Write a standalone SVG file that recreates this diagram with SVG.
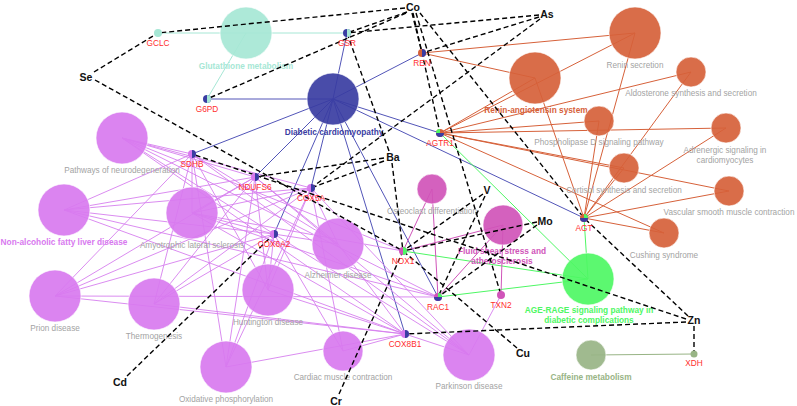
<svg xmlns="http://www.w3.org/2000/svg" width="797" height="406" viewBox="0 0 797 406">
<style>
text{font-family:"Liberation Sans",Arial,sans-serif}
.pw{font-size:8.2px;fill:#a3a3a3;text-anchor:middle}
.gl{font-size:8.3px;fill:#ff2d2d;text-anchor:middle}
.el{font-size:10.5px;font-weight:bold;fill:#111;text-anchor:middle}
.bl{font-size:8.3px;font-weight:bold;text-anchor:middle}
.c{stroke:#fff;stroke-opacity:.6;stroke-width:1;fill-opacity:.92}
.teal{fill:#a6e7d5}.blue{fill:#3a3da2}.org{fill:#d6613a}.grn{fill:#4ef764}.mag{fill:#d054b9}.vio{fill:#d879ef}.caf{fill:#98b485}
line{fill:none}
.et{stroke:#a6e7d5;stroke-width:1}
.eb{stroke:#5255b8;stroke-width:1}
.eo{stroke:#d6613a;stroke-width:1}
.eg{stroke:#4ef764;stroke-width:1}
.em{stroke:#d054b9;stroke-width:1}
.ev{stroke:#d67fee;stroke-width:.9}
.ec{stroke:#98b485;stroke-width:1}
.d{stroke:#000;stroke-width:1.4;stroke-dasharray:5 3}
</style>

<g id="connectors-pathway">
<line class="et" x1="158" y1="33" x2="246" y2="33"/>
<line class="et" x1="347" y1="33" x2="246" y2="33"/>
<line class="et" x1="207" y1="99" x2="246" y2="33"/>
<line class="eb" x1="347" y1="33" x2="333" y2="99"/>
<line class="eb" x1="207" y1="99" x2="333" y2="99"/>
<line class="eb" x1="422" y1="53" x2="333" y2="99"/>
<line class="eb" x1="440" y1="133" x2="333" y2="99"/>
<line class="eb" x1="584" y1="218" x2="333" y2="99"/>
<line class="eb" x1="192" y1="154" x2="333" y2="99"/>
<line class="eb" x1="255" y1="177" x2="333" y2="99"/>
<line class="eb" x1="311" y1="188" x2="333" y2="99"/>
<line class="eb" x1="274" y1="234" x2="333" y2="99"/>
<line class="eb" x1="438" y1="297" x2="333" y2="99"/>
<line class="eb" x1="405" y1="334" x2="333" y2="99"/>
<line class="eo" x1="422" y1="53" x2="635" y2="33"/>
<line class="eo" x1="440" y1="133" x2="635" y2="33"/>
<line class="eo" x1="584" y1="218" x2="635" y2="33"/>
<line class="eo" x1="422" y1="53" x2="535" y2="78"/>
<line class="eo" x1="440" y1="133" x2="535" y2="78"/>
<line class="eo" x1="584" y1="218" x2="535" y2="78"/>
<line class="eo" x1="440" y1="133" x2="691" y2="72"/>
<line class="eo" x1="584" y1="218" x2="691" y2="72"/>
<line class="eo" x1="440" y1="133" x2="599" y2="121"/>
<line class="eo" x1="584" y1="218" x2="599" y2="121"/>
<line class="eo" x1="440" y1="133" x2="726" y2="128"/>
<line class="eo" x1="584" y1="218" x2="726" y2="128"/>
<line class="eo" x1="440" y1="133" x2="624" y2="168"/>
<line class="eo" x1="584" y1="218" x2="624" y2="168"/>
<line class="eo" x1="440" y1="133" x2="729" y2="191"/>
<line class="eo" x1="584" y1="218" x2="729" y2="191"/>
<line class="eo" x1="440" y1="133" x2="664" y2="233"/>
<line class="eo" x1="584" y1="218" x2="664" y2="233"/>
<line class="eg" x1="440" y1="133" x2="588" y2="279"/>
<line class="eg" x1="584" y1="218" x2="588" y2="279"/>
<line class="eg" x1="403" y1="251" x2="588" y2="279"/>
<line class="eg" x1="438" y1="297" x2="588" y2="279"/>
<line class="em" x1="403" y1="251" x2="432" y2="189"/>
<line class="em" x1="438" y1="297" x2="432" y2="189"/>
<line class="em" x1="403" y1="251" x2="503" y2="225"/>
<line class="em" x1="438" y1="297" x2="503" y2="225"/>
<line class="em" x1="501" y1="295" x2="503" y2="225"/>
<line class="ec" x1="694" y1="354" x2="591" y2="355"/>
<line class="ev" x1="192" y1="154" x2="122" y2="138"/><line class="ev" x1="192" y1="154" x2="64" y2="210"/><line class="ev" x1="192" y1="154" x2="192" y2="213"/><line class="ev" x1="192" y1="154" x2="338" y2="244"/><line class="ev" x1="192" y1="154" x2="55" y2="296"/><line class="ev" x1="192" y1="154" x2="154" y2="304"/><line class="ev" x1="192" y1="154" x2="268" y2="290"/><line class="ev" x1="192" y1="154" x2="226" y2="367"/><line class="ev" x1="192" y1="154" x2="469" y2="355"/>
<line class="ev" x1="255" y1="177" x2="122" y2="138"/><line class="ev" x1="255" y1="177" x2="64" y2="210"/><line class="ev" x1="255" y1="177" x2="192" y2="213"/><line class="ev" x1="255" y1="177" x2="338" y2="244"/><line class="ev" x1="255" y1="177" x2="55" y2="296"/><line class="ev" x1="255" y1="177" x2="154" y2="304"/><line class="ev" x1="255" y1="177" x2="268" y2="290"/><line class="ev" x1="255" y1="177" x2="226" y2="367"/><line class="ev" x1="255" y1="177" x2="469" y2="355"/>
<line class="ev" x1="311" y1="188" x2="122" y2="138"/><line class="ev" x1="311" y1="188" x2="64" y2="210"/><line class="ev" x1="311" y1="188" x2="192" y2="213"/><line class="ev" x1="311" y1="188" x2="338" y2="244"/><line class="ev" x1="311" y1="188" x2="55" y2="296"/><line class="ev" x1="311" y1="188" x2="154" y2="304"/><line class="ev" x1="311" y1="188" x2="268" y2="290"/><line class="ev" x1="311" y1="188" x2="226" y2="367"/><line class="ev" x1="311" y1="188" x2="469" y2="355"/><line class="ev" x1="311" y1="188" x2="343" y2="351"/>
<line class="ev" x1="274" y1="234" x2="122" y2="138"/><line class="ev" x1="274" y1="234" x2="64" y2="210"/><line class="ev" x1="274" y1="234" x2="192" y2="213"/><line class="ev" x1="274" y1="234" x2="338" y2="244"/><line class="ev" x1="274" y1="234" x2="55" y2="296"/><line class="ev" x1="274" y1="234" x2="154" y2="304"/><line class="ev" x1="274" y1="234" x2="268" y2="290"/><line class="ev" x1="274" y1="234" x2="226" y2="367"/><line class="ev" x1="274" y1="234" x2="469" y2="355"/><line class="ev" x1="274" y1="234" x2="343" y2="351"/>
<line class="ev" x1="405" y1="334" x2="122" y2="138"/><line class="ev" x1="405" y1="334" x2="64" y2="210"/><line class="ev" x1="405" y1="334" x2="192" y2="213"/><line class="ev" x1="405" y1="334" x2="338" y2="244"/><line class="ev" x1="405" y1="334" x2="55" y2="296"/><line class="ev" x1="405" y1="334" x2="154" y2="304"/><line class="ev" x1="405" y1="334" x2="268" y2="290"/><line class="ev" x1="405" y1="334" x2="226" y2="367"/><line class="ev" x1="405" y1="334" x2="469" y2="355"/><line class="ev" x1="405" y1="334" x2="343" y2="351"/>
<line class="ev" x1="438" y1="297" x2="122" y2="138"/><line class="ev" x1="438" y1="297" x2="192" y2="213"/><line class="ev" x1="438" y1="297" x2="64" y2="210"/><line class="ev" x1="438" y1="297" x2="55" y2="296"/>
<line class="ev" x1="403" y1="251" x2="122" y2="138"/><line class="ev" x1="403" y1="251" x2="192" y2="213"/>
<line class="ev" x1="501" y1="295" x2="469" y2="355"/>
</g>

<g id="n-glut"><circle class="c teal" cx="246" cy="33" r="26"/><text class="bl" x="246" y="69" fill="#a6e7d5">Glutathione metabolism</text></g>
<g id="n-dc"><circle class="c blue" cx="333" cy="99" r="26"/><text class="bl" x="334" y="135" fill="#3a3da2">Diabetic cardiomyopathy</text></g>
<g id="n-rensec"><circle class="c org" cx="635" cy="33" r="26"/><text class="pw" x="635" y="68">Renin secretion</text></g>
<g id="n-ras"><circle class="c org" cx="535" cy="78" r="26"/><text class="bl" x="536" y="113" fill="#d6613a">Renin-angiotensin system</text></g>
<g id="n-aldo"><circle class="c org" cx="691" cy="72" r="15"/><text class="pw" x="691" y="96">Aldosterone synthesis and secretion</text></g>
<g id="n-pld"><circle class="c org" cx="599" cy="121" r="15"/><text class="pw" x="599" y="145">Phospholipase D signaling pathway</text></g>
<g id="n-adr"><circle class="c org" cx="726" cy="128" r="15"/><text class="pw" x="725" y="153">Adrenergic signaling in</text><text class="pw" x="725" y="163">cardiomyocytes</text></g>
<g id="n-cort"><circle class="c org" cx="624" cy="168" r="15"/><text class="pw" x="624" y="193">Cortisol synthesis and secretion</text></g>
<g id="n-vasc"><circle class="c org" cx="729" cy="191" r="15"/><text class="pw" x="729" y="215">Vascular smooth muscle contraction</text></g>
<g id="n-cush"><circle class="c org" cx="664" cy="233" r="15"/><text class="pw" x="664" y="258">Cushing syndrome</text></g>
<g id="n-age"><circle class="c grn" cx="588" cy="279" r="26"/><text class="bl" x="589" y="313" fill="#4ef764">AGE-RAGE signaling pathway in</text><text class="bl" x="589" y="323" fill="#4ef764">diabetic complications</text></g>
<g id="n-caf"><circle class="c caf" cx="591" cy="355" r="15"/><text class="bl" x="591" y="380" fill="#98b485">Caffeine metabolism</text></g>
<g id="n-ost"><circle class="c mag" cx="432" cy="189" r="15"/><text class="pw" x="432" y="214">Osteoclast differentiation</text></g>
<g id="n-fss"><circle class="c mag" cx="503" cy="225" r="20"/><text class="bl" x="502" y="254" fill="#d054b9">Fluid shear stress and</text><text class="bl" x="502" y="264" fill="#d054b9">atherosclerosis</text></g>
<g id="n-pnd"><circle class="c vio" cx="122" cy="138" r="26"/><text class="pw" x="122" y="173">Pathways of neurodegeneration</text></g>
<g id="n-nafld"><circle class="c vio" cx="64" cy="210" r="26"/><text class="bl" x="64" y="245" fill="#d879ef">Non-alcoholic fatty liver disease</text></g>
<g id="n-als"><circle class="c vio" cx="192" cy="213" r="26"/><text class="pw" x="192" y="248">Amyotrophic lateral sclerosis</text></g>
<g id="n-alz"><circle class="c vio" cx="338" cy="244" r="26"/><text class="pw" x="338" y="278">Alzheimer disease</text></g>
<g id="n-prion"><circle class="c vio" cx="55" cy="296" r="26"/><text class="pw" x="55" y="331">Prion disease</text></g>
<g id="n-thermo"><circle class="c vio" cx="154" cy="304" r="26"/><text class="pw" x="154" y="339">Thermogenesis</text></g>
<g id="n-hd"><circle class="c vio" cx="268" cy="290" r="26"/><text class="pw" x="268" y="325">Huntington disease</text></g>
<g id="n-oxphos"><circle class="c vio" cx="226" cy="367" r="26"/><text class="pw" x="226" y="402">Oxidative phosphorylation</text></g>
<g id="n-cmc"><circle class="c vio" cx="343" cy="351" r="20"/><text class="pw" x="343" y="380">Cardiac muscle contraction</text></g>
<g id="n-pd"><circle class="c vio" cx="469" cy="355" r="26"/><text class="pw" x="469" y="389">Parkinson disease</text></g>

<g id="connectors-metal">
<line class="d" x1="405" y1="8" x2="158" y2="33"/>
<line class="d" x1="407" y1="12" x2="347" y2="33"/>
<line class="d" x1="406" y1="13" x2="207" y2="99"/>
<line class="d" x1="412" y1="13" x2="422" y2="53"/>
<line class="d" x1="413" y1="13" x2="440" y2="133"/>
<line class="d" x1="416" y1="13" x2="501" y2="295"/>
<line class="d" x1="420" y1="13" x2="584" y2="218"/>
<line class="d" x1="539" y1="15" x2="347" y2="33"/>
<line class="d" x1="539" y1="17" x2="422" y2="53"/>
<line class="d" x1="540" y1="19" x2="311" y2="188"/>
<line class="d" x1="94" y1="72" x2="158" y2="33"/>
<line class="d" x1="95" y1="80" x2="403" y2="251"/>
<line class="d" x1="389" y1="151" x2="347" y2="33"/>
<line class="d" x1="384" y1="158" x2="255" y2="177"/>
<line class="d" x1="384" y1="161" x2="311" y2="188"/>
<line class="d" x1="392" y1="163" x2="403" y2="251"/>
<line class="d" x1="483" y1="194" x2="403" y2="251"/>
<line class="d" x1="485" y1="196" x2="438" y2="297"/>
<line class="d" x1="537" y1="222" x2="403" y2="251"/>
<line class="d" x1="537" y1="225" x2="438" y2="297"/>
<line class="d" x1="688" y1="316" x2="584" y2="218"/>
<line class="d" x1="686" y1="319" x2="192" y2="154"/>
<line class="d" x1="686" y1="322" x2="405" y2="334"/>
<line class="d" x1="694" y1="326" x2="694" y2="354"/>
<line class="d" x1="517" y1="348" x2="403" y2="251"/>
<line class="d" x1="127" y1="376" x2="274" y2="234"/>
<line class="d" x1="339" y1="394" x2="403" y2="251"/>
</g>

<g id="g-gclc"><circle cx="158" cy="33" r="4" fill="#a6e7d5"/><text class="gl" x="158" y="46">GCLC</text></g>
<g id="g-gsr"><circle cx="347" cy="33" r="4" fill="#3a3da2"/><path d="M347 29A4 4 0 0 1 347 37Z" fill="#a6e7d5"/><text class="gl" x="347" y="46">GSR</text></g>
<g id="g-g6pd"><circle cx="207" cy="99" r="4" fill="#3a3da2"/><path d="M207 95A4 4 0 0 1 207 103Z" fill="#a6e7d5"/><text class="gl" x="207" y="112">G6PD</text></g>
<g id="g-ren"><circle cx="422" cy="53" r="4" fill="#d6613a"/><path d="M422 49A4 4 0 0 1 422 57Z" fill="#3a3da2"/><text class="gl" x="422" y="66">REN</text></g>
<g id="g-agtr1"><circle cx="440" cy="133" r="4" fill="#d6613a"/><path d="M440 133L436 133A4 4 0 0 1 440 129Z" fill="#4ef764"/><path d="M440 133L444 133A4 4 0 0 1 436 133Z" fill="#3a3da2"/><text class="gl" x="440" y="146">AGTR1</text></g>
<g id="g-agt"><circle cx="584" cy="218" r="4" fill="#d6613a"/><path d="M584 218L584 214A4 4 0 0 1 588 218Z" fill="#4ef764"/><path d="M584 218L588 218A4 4 0 0 1 580 218Z" fill="#3a3da2"/><text class="gl" x="584" y="231">AGT</text></g>
<g id="g-sdhb"><circle cx="192" cy="154" r="4" fill="#d879ef"/><path d="M192 150A4 4 0 0 1 192 158Z" fill="#3a3da2"/><text class="gl" x="192" y="167">SDHB</text></g>
<g id="g-ndufs6"><circle cx="255" cy="177" r="4" fill="#d879ef"/><path d="M255 173A4 4 0 0 1 255 181Z" fill="#3a3da2"/><text class="gl" x="255" y="190">NDUFS6</text></g>
<g id="g-cox5a"><circle cx="311" cy="188" r="4" fill="#d879ef"/><path d="M311 184A4 4 0 0 1 311 192Z" fill="#3a3da2"/><text class="gl" x="311" y="201">COX5A</text></g>
<g id="g-cox6a2"><circle cx="274" cy="234" r="4" fill="#d879ef"/><path d="M274 230A4 4 0 0 1 274 238Z" fill="#3a3da2"/><text class="gl" x="274" y="247">COX6A2</text></g>
<g id="g-cox8b1"><circle cx="405" cy="334" r="4" fill="#d879ef"/><path d="M405 330A4 4 0 0 1 405 338Z" fill="#3a3da2"/><text class="gl" x="405" y="347">COX8B1</text></g>
<g id="g-nox1"><circle cx="403" cy="251" r="4" fill="#d054b9"/><path d="M403 247A4 4 0 0 1 403 255Z" fill="#4ef764"/><text class="gl" x="403" y="264">NOX1</text></g>
<g id="g-rac1"><circle cx="438" cy="297" r="4" fill="#d054b9"/><path d="M438 297L438 293A4 4 0 0 1 442 297Z" fill="#4ef764"/><path d="M438 297L442 297A4 4 0 0 1 434 297Z" fill="#3a3da2"/><text class="gl" x="438" y="310">RAC1</text></g>
<g id="g-txn2"><circle cx="501" cy="295" r="4" fill="#d054b9"/><text class="gl" x="501" y="308">TXN2</text></g>
<g id="g-xdh"><circle cx="694" cy="354" r="3.5" fill="#98b485"/><text class="gl" x="694" y="366">XDH</text></g>

<g id="m-co"><text class="el" x="413" y="11">Co</text></g>
<g id="m-as"><text class="el" x="547" y="18">As</text></g>
<g id="m-se"><text class="el" x="86" y="81">Se</text></g>
<g id="m-ba"><text class="el" x="393" y="161">Ba</text></g>
<g id="m-v"><text class="el" x="487" y="194">V</text></g>
<g id="m-mo"><text class="el" x="545" y="225">Mo</text></g>
<g id="m-zn"><text class="el" x="694" y="324">Zn</text></g>
<g id="m-cu"><text class="el" x="523" y="357">Cu</text></g>
<g id="m-cd"><text class="el" x="120" y="386">Cd</text></g>
<g id="m-cr"><text class="el" x="336" y="405">Cr</text></g>
</svg>
